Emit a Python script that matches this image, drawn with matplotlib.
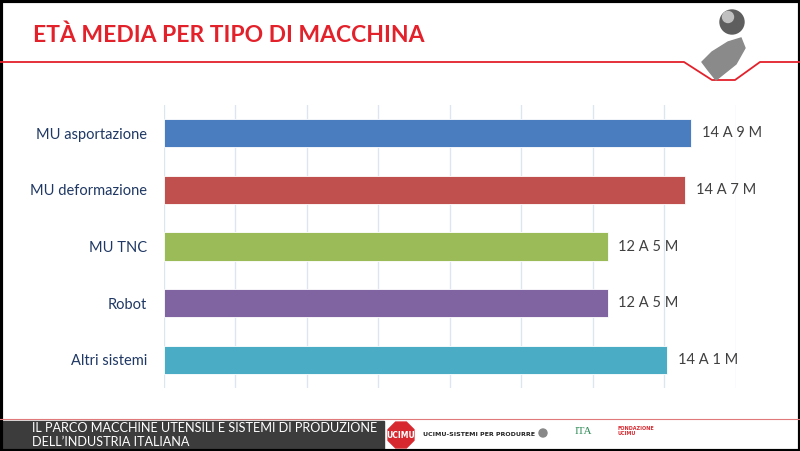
import matplotlib
matplotlib.use("Agg")
import matplotlib.pyplot as plt
import matplotlib.patches as mpatches
from matplotlib.lines import Line2D

# data (age in months)
categories = ['MU asportazione', 'MU deformazione', 'MU TNC', 'Robot', 'Altri sistemi']
months = [177, 175, 149, 149, 169]
value_labels = ['14 A 9 M', '14 A 7 M', '12 A 5 M', '12 A 5 M', '14 A 1 M']
bar_colors = ['#4a7dbf', '#c0504d', '#9bbb59', '#8064a2', '#4bacc6']

FONT = ['Lato', 'DejaVu Sans']

fig = plt.figure(figsize=(8, 4.51), dpi=100)
W, H = 800, 451

# chart area
ax = fig.add_axes([163.7 / W, 1 - 388 / H, (735.9 - 163.7) / W, (388 - 105) / H])
y = list(range(len(categories)))
ax.barh(y, months, height=0.5, color=bar_colors, edgecolor='white', linewidth=0.6, zorder=3)
ax.set_xlim(0, 192)
ax.set_ylim(len(categories) - 0.5, -0.5)
ax.set_xticks(range(0, 193, 24))
ax.xaxis.grid(True, color='#dce6f2', linewidth=1, zorder=0)
ax.tick_params(axis='x', length=0, labelbottom=False)
ax.tick_params(axis='y', length=0, pad=12)
ax.set_yticks(y)
ax.set_yticklabels(categories, fontsize=10.5, color='#1f3864', family=FONT)
for s in ax.spines.values():
    s.set_visible(False)
for i, (m, lab) in enumerate(zip(months, value_labels)):
    ax.text(m + 3.5, i, lab, va='center', ha='left', fontsize=10.5, color='#404040', family=FONT)

# overlay for decorations in pixel coords
ov = fig.add_axes([0, 0, 1, 1], zorder=-1)
ov.set_xlim(0, W)
ov.set_ylim(H, 0)
ov.axis('off')

# title
fig.text(33 / W, 1 - 35 / H, 'ETÀ MEDIA PER TIPO DI MACCHINA', fontsize=16.5, fontweight='bold',
         color='#e3212b', va='center', ha='left', family=FONT)

# red header line with notch
ov.add_line(Line2D([0, 684, 712, 735, 760, 800], [62, 62, 80, 80, 62, 62], color='#e3212b', lw=1.3))

# logo approximation
ov.add_patch(mpatches.Circle((732, 22), 12, color='#5e5e5e', zorder=5))
ov.add_patch(mpatches.Circle((728, 17), 5.5, color='#c0c0c0', zorder=6))
ov.add_patch(mpatches.Polygon([[741, 38], [745, 48], [736, 64], [716, 80], [708, 70], [702, 62],
                               [712, 52], [728, 42]], closed=True, color='#8a8a8a', zorder=5))

# footer
ov.add_line(Line2D([0, 800], [419, 419], color='#e07a7a', lw=0.8))
ov.add_patch(mpatches.Rectangle((0, 421), 384, 30, color='#3c3c3c'))
ov.text(32, 428.5, 'IL PARCO MACCHINE UTENSILI E SISTEMI DI PRODUZIONE', color='white', fontsize=9.1,
        va='center', ha='left', family=FONT)
ov.text(32, 442, 'DELL\u2019INDUSTRIA ITALIANA', color='white', fontsize=9.1,
        va='center', ha='left', family=FONT)
ov.add_patch(mpatches.RegularPolygon((401, 435), 8, radius=14, orientation=0.39, color='#d7282f'))
ov.text(401, 435, 'UCIMU', color='white', fontsize=5.5, fontweight='bold', ha='center', va='center')
ov.text(423, 435, 'UCIMU-SISTEMI PER PRODURRE', color='#222222', fontsize=4.5, fontweight='bold',
        ha='left', va='center')
ov.add_patch(mpatches.Circle((543, 433), 4, color='#888888'))
ov.text(583, 431, 'ITA', color='#2e8b57', fontsize=8, ha='center', va='center',
        family=['Liberation Serif', 'DejaVu Serif'])
ov.text(618, 431, 'FONDAZIONE\nUCIMU', color='#d7282f', fontsize=3.5, fontweight='bold',
        ha='left', va='center')

# black frame
ov.add_patch(mpatches.Rectangle((0.5, 0.5), W - 1, H - 1, fill=False, edgecolor='black', lw=3))

fig.savefig('out.png', dpi=100)
